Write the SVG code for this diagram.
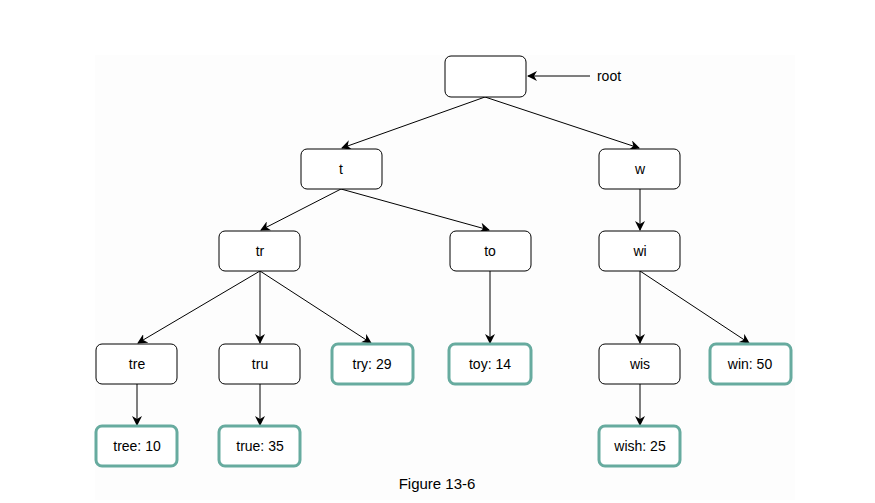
<svg xmlns="http://www.w3.org/2000/svg" width="875" height="503" viewBox="0 0 875 503">
<style>
.n rect{fill:#fff;stroke:#000;stroke-width:1}
.g rect{fill:#fff;stroke:#67ab9f;stroke-width:3}
text{font-family:"Liberation Sans",Arial,sans-serif;font-size:14px;fill:#000;text-anchor:middle;dominant-baseline:central}
.e line{stroke:#000;stroke-width:1;marker-end:url(#a)}
</style>
<defs>
<marker id="a" viewBox="0 0 10 10" refX="9" refY="5" markerWidth="10" markerHeight="10" markerUnits="userSpaceOnUse" orient="auto">
<path d="M0,0 L10,5 L0,10 L3,5 Z" fill="#000"/>
</marker>
</defs>
<rect width="875" height="503" fill="#fff"/>
<rect x="95" y="55" width="700" height="445" fill="#fdfdfd"/>
<g class="e" id="edges">
<line x1="485" y1="97" x2="342" y2="148"/>
<line x1="485" y1="97" x2="639" y2="148"/>
<line x1="341" y1="189" x2="261" y2="230"/>
<line x1="341" y1="189" x2="489" y2="230"/>
<line x1="640" y1="189" x2="640" y2="230"/>
<line x1="260" y1="271" x2="138" y2="343"/>
<line x1="260" y1="271" x2="260" y2="343"/>
<line x1="260" y1="271" x2="371" y2="343"/>
<line x1="490" y1="271" x2="490" y2="343"/>
<line x1="640" y1="271" x2="640" y2="343"/>
<line x1="640" y1="271" x2="749" y2="343"/>
<line x1="137" y1="384" x2="137" y2="425"/>
<line x1="260" y1="384" x2="260" y2="425"/>
<line x1="640" y1="384" x2="640" y2="425"/>
<line x1="590" y1="76" x2="528" y2="76"/>
</g>
<g id="root" class="n"><rect x="445" y="56" width="81" height="41" rx="6"/></g>
<text x="609" y="76">root</text>
<g id="t" class="n"><rect x="301" y="149" width="81" height="40" rx="6"/><text x="341" y="169">t</text></g>
<g id="w" class="n"><rect x="599" y="149" width="81" height="40" rx="6"/><text x="640" y="169">w</text></g>
<g id="tr" class="n"><rect x="219" y="231" width="81" height="40" rx="6"/><text x="260" y="251">tr</text></g>
<g id="to" class="n"><rect x="450" y="231" width="81" height="40" rx="6"/><text x="490" y="251">to</text></g>
<g id="wi" class="n"><rect x="599" y="231" width="81" height="40" rx="6"/><text x="640" y="251">wi</text></g>
<g id="tre" class="n"><rect x="96" y="344" width="81" height="40" rx="6"/><text x="137" y="364">tre</text></g>
<g id="tru" class="n"><rect x="219" y="344" width="81" height="40" rx="6"/><text x="260" y="364">tru</text></g>
<g id="try" class="g"><rect x="332" y="344" width="81" height="40" rx="6"/><text x="372" y="364">try: 29</text></g>
<g id="toy" class="g"><rect x="449" y="344" width="82" height="40" rx="6"/><text x="490" y="364">toy: 14</text></g>
<g id="wis" class="n"><rect x="599" y="344" width="81" height="40" rx="6"/><text x="640" y="364">wis</text></g>
<g id="win" class="g"><rect x="710" y="344" width="81" height="40" rx="6"/><text x="750" y="364">win: 50</text></g>
<g id="tree" class="g"><rect x="96" y="426" width="81" height="40" rx="6"/><text x="137" y="446">tree: 10</text></g>
<g id="true" class="g"><rect x="219" y="426" width="81" height="40" rx="6"/><text x="260" y="446">true: 35</text></g>
<g id="wish" class="g"><rect x="599" y="426" width="81" height="40" rx="6"/><text x="640" y="446">wish: 25</text></g>
<text x="437" y="483" style="font-size:15px">Figure 13-6</text>
</svg>
